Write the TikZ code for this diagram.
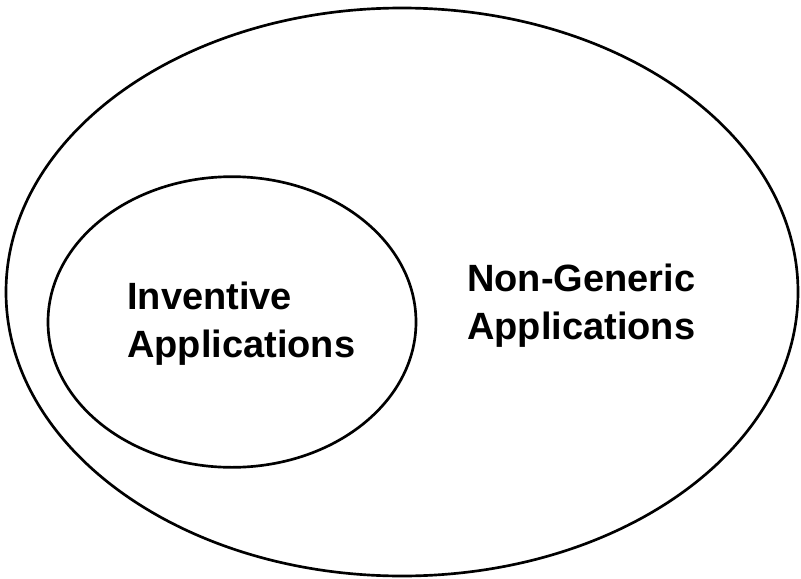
\documentclass[tikz,border=0pt]{standalone}
\usepackage{fontspec}
\setmainfont{Liberation Sans}
\usetikzlibrary{shapes.geometric}
\begin{document}
\begin{tikzpicture}[x=0.75pt,y=-0.75pt,
  setshape/.style={draw=black,line width=2pt,ellipse,inner sep=0pt,fill=none},
  setlabel/.style={font=\fontsize{28.5}{36}\selectfont\bfseries,align=left,inner sep=0pt,anchor=base west}]
\useasboundingbox[fill=white] (0,0) rectangle (801,579);
\node[setshape,minimum width=594pt,minimum height=426pt] (outer) at (402,292) {};
\node[setshape,minimum width=276pt,minimum height=218pt] (inner) at (232,322) {};
\node[setlabel] (inv) at (127,357) {Inventive\\Applications};
\node[setlabel] (nongen) at (467,339) {Non-Generic\\Applications};
\end{tikzpicture}
\end{document}
